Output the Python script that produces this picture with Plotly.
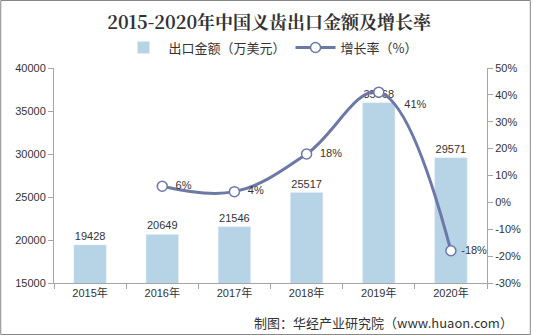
import plotly.graph_objects as go

years = ["2015年", "2016年", "2017年", "2018年", "2019年", "2020年"]
export_amount = [19428, 20649, 21546, 25517, 35968, 29571]
growth_years = ["2016年", "2017年", "2018年", "2019年", "2020年"]
growth_rate = [6, 4, 18, 41, -18]
growth_labels = ["6%", "4%", "18%", "41%", "-18%"]
left_ticks = [15000, 20000, 25000, 30000, 35000, 40000]
right_ticks = [-30, -20, -10, 0, 10, 20, 30, 40, 50]

FONT = "Liberation Sans, Noto Sans CJK SC, sans-serif"
CJK = "Noto Sans CJK SC, sans-serif"

fig = go.Figure()
fig.add_trace(go.Bar(
    x=years, y=export_amount, name="出口金额（万美元）",
    marker=dict(color="#B7D3E6"),
    text=[str(v) for v in export_amount], textposition="outside",
    textfont=dict(size=11, color="#333333", family=FONT),
    cliponaxis=False,
))
fig.add_trace(go.Scatter(
    x=growth_years, y=growth_rate, name="增长率（%）", yaxis="y2",
    mode="lines+markers+text",
    line=dict(color="#6C78A6", width=3, shape="spline", smoothing=1.1),
    marker=dict(size=10, color="white", line=dict(color="#6C78A6", width=1.5)),
    text=["  " + growth_labels[0], "  " + growth_labels[1], "  " + growth_labels[2],
          "      " + growth_labels[3], " " + growth_labels[4]],
    textposition=["middle right", "middle right", "middle right", "bottom right", "middle right"],
    textfont=dict(size=11, color="#333333", family=FONT),
    cliponaxis=False,
))

fig.update_layout(
    width=533, height=335,
    margin=dict(l=54, r=44, t=68, b=52),
    paper_bgcolor="white", plot_bgcolor="white",
    bargap=0.55,
    showlegend=True,
    title=dict(text="<b>2015-2020年中国义齿出口金额及增长率</b>", x=0.505, xanchor="center",
               y=0.932, yanchor="middle",
               font=dict(size=18, color="#333333", family="Noto Serif CJK SC, Noto Sans CJK SC, serif")),
    legend=dict(orientation="h", x=0.5, xanchor="center", y=1.095, yanchor="middle",
                font=dict(size=13, color="#333333", family=CJK),
                itemwidth=40, bgcolor="rgba(0,0,0,0)"),
    xaxis=dict(showline=True, linecolor="#A6A6A6", linewidth=1, ticks="outside",
               tickcolor="#A6A6A6", ticklen=5, showgrid=False,
               tickfont=dict(size=11, color="#333333", family=FONT),
               tickson="boundaries"),
    yaxis=dict(range=[15000, 40000], tickvals=left_ticks, ticktext=[str(v) for v in left_ticks],
               showline=True,
               linecolor="#A6A6A6", linewidth=1, ticks="outside", tickcolor="#A6A6A6",
               ticklen=5, showgrid=False, zeroline=False,
               tickfont=dict(size=11, color="#333333", family=FONT)),
    yaxis2=dict(range=[-30, 50], tickvals=right_ticks, ticktext=[f"{v}%" for v in right_ticks],
                overlaying="y", side="right", showline=True, linecolor="#A6A6A6",
                linewidth=1, ticks="outside", tickcolor="#A6A6A6", ticklen=5,
                showgrid=False, zeroline=False,
                tickfont=dict(size=11, color="#333333", family=FONT)),
    shapes=[dict(type="rect", xref="paper", yref="paper",
                 x0=(0.5 - 54) / 435, x1=(532.5 - 54) / 435,
                 y0=(283 - 334.5) / 215, y1=(283 - 0.5) / 215,
                 line=dict(color="#888888", width=1))],
    annotations=[
        dict(text="制图：华经产业研究院（www.huaon.com）", xref="paper", yref="paper",
             x=(517 - 54) / 435, y=(283 - 322) / 215, showarrow=False, xanchor="right", yanchor="middle",
             font=dict(size=13, color="#333333", family=CJK)),
    ],
)

fig.write_html("out.html")
